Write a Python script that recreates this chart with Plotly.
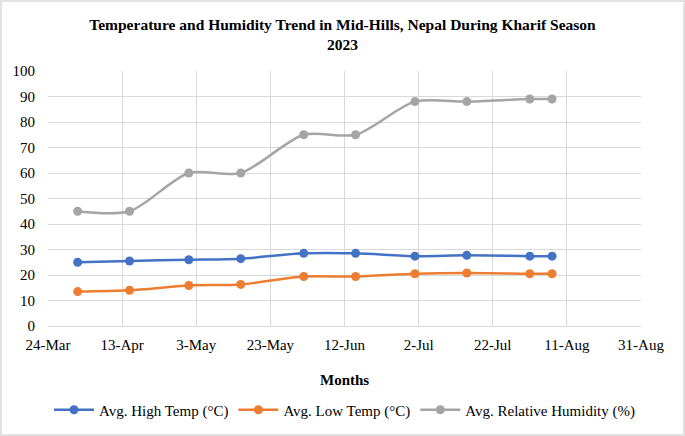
import plotly.graph_objects as go

dates = ["2023-04-01", "2023-04-15", "2023-05-01", "2023-05-15", "2023-06-01",
         "2023-06-15", "2023-07-01", "2023-07-15", "2023-08-01", "2023-08-07"]
high_temp = [25.0, 25.5, 26.0, 26.4, 28.5, 28.5, 27.4, 27.7, 27.4, 27.4]
low_temp = [13.5, 14.0, 15.9, 16.3, 19.4, 19.4, 20.5, 20.8, 20.5, 20.5]
humidity = [45, 45, 60, 60, 75, 75, 88, 88, 89, 89]

series_names = ["Avg. High Temp (°C)", "Avg. Low Temp (°C)", "Avg. Relative Humidity (%)"]
colors = ["#4472C4", "#ED7D31", "#A5A5A5"]

FONT = "Times New Roman, Liberation Serif, serif"
W, H = 685, 436
L, R, T, B = 48, 44, 71, 110
pw, ph = W - L - R, H - T - B

fig = go.Figure()
for name, vals, col in zip(series_names, [high_temp, low_temp, humidity], colors):
    fig.add_trace(go.Scatter(
        x=dates, y=vals, name=name, mode="lines+markers",
        line=dict(color=col, width=2.5, shape="spline", smoothing=0.8),
        marker=dict(color=col, size=9),
    ))

fig.update_layout(
    width=W, height=H,
    margin=dict(l=L, r=R, t=T, b=B, autoexpand=False),
    paper_bgcolor="white", plot_bgcolor="white",
    font=dict(family=FONT, size=15, color="black"),
    title=dict(
        text="<b>Temperature and Humidity Trend in Mid-Hills, Nepal During Kharif Season<br>2023</b>",
        x=0.5, xref="container", xanchor="center",
        y=1 - 30 / H, yref="container", yanchor="middle",
        font=dict(family=FONT, size=15.5, color="black"),
    ),
    showlegend=True,
    legend=dict(
        orientation="h", x=0.5, xanchor="center",
        y=-(410 - T - ph) / ph, yanchor="middle",
        font=dict(family=FONT, size=15, color="black"),
        itemwidth=40, tracegroupgap=0,
    ),
    xaxis=dict(
        type="date",
        range=["2023-03-24", "2023-08-31"],
        tick0="2023-03-24", dtick=20 * 86400000,
        tickformat="%-d-%b",
        showgrid=True, gridcolor="#d9d9d9", gridwidth=1,
        showline=True, linecolor="#d9d9d9", linewidth=1,
        ticks="outside", ticklen=5, tickcolor="rgba(0,0,0,0)",
        zeroline=False, automargin=False,
        tickfont=dict(family=FONT, size=15, color="black"),
    ),
    yaxis=dict(
        range=[0, 100], dtick=10,
        showgrid=True, gridcolor="#d9d9d9", gridwidth=1,
        showline=False, zeroline=False, automargin=False,
        ticks="outside", ticklen=9, tickcolor="rgba(0,0,0,0)",
        tickfont=dict(family=FONT, size=15, color="black"),
    ),
    annotations=[dict(
        text="<b>Months</b>", xref="paper", yref="paper",
        x=0.5, y=-(380 - T - ph) / ph, xanchor="center", yanchor="middle",
        showarrow=False, font=dict(family=FONT, size=15, color="black"),
    )],
    shapes=[dict(
        type="rect", xref="paper", yref="paper",
        x0=-(L - 1) / pw, x1=1 + (R - 1) / pw,
        y0=-(B - 1) / ph, y1=1 + (T - 1) / ph,
        line=dict(color="#d9d9d9", width=1.5), layer="below",
    )],
)

fig.write_html(
    "out.html",
    config={"displayModeBar": False},
    post_script="document.body.style.margin='0';document.body.style.overflow='hidden';",
)
